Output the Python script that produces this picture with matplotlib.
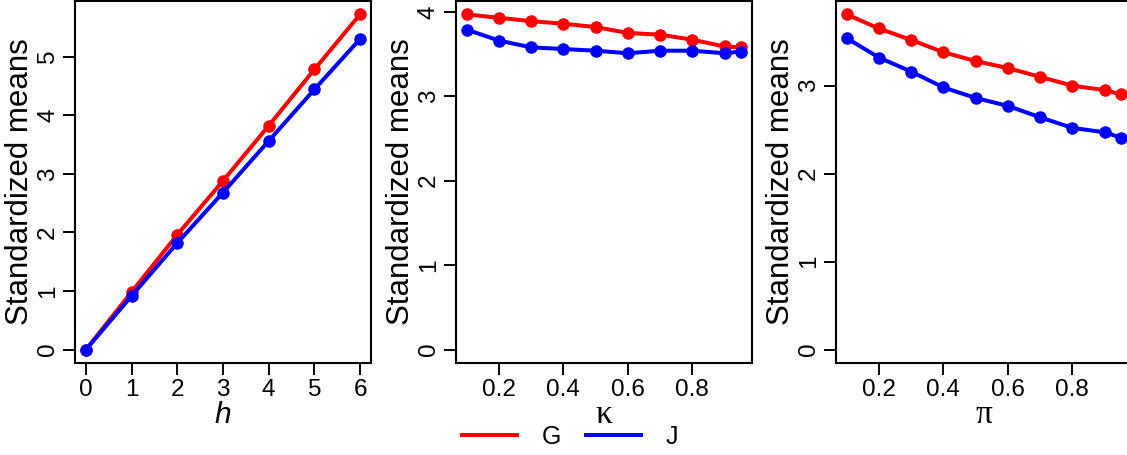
import numpy as np
import matplotlib
matplotlib.use("Agg")
import matplotlib.pyplot as plt
from matplotlib.lines import Line2D

plt.rcParams["font.family"] = ["Liberation Sans", "DejaVu Sans"]

# panel 1: h
h_vals = [0, 1, 2, 3, 4, 5, 6]
h_G = [0.0, 0.985, 1.96, 2.88, 3.82, 4.78, 5.72]
h_J = [0.0, 0.917, 1.82, 2.68, 3.56, 4.44, 5.30]

# panel 2: kappa
kappa_vals = [0.1, 0.2, 0.3, 0.4, 0.5, 0.6, 0.7, 0.8, 0.9, 0.95]
kappa_G = [3.97, 3.93, 3.89, 3.86, 3.82, 3.75, 3.73, 3.67, 3.59, 3.58]
kappa_J = [3.79, 3.66, 3.58, 3.56, 3.54, 3.51, 3.54, 3.54, 3.51, 3.53]

# panel 3: pi
pi_vals = [0.1, 0.2, 0.3, 0.4, 0.5, 0.6, 0.7, 0.8, 0.9, 0.95]
pi_G = [3.81, 3.65, 3.52, 3.38, 3.28, 3.20, 3.10, 3.00, 2.95, 2.90]
pi_J = [3.54, 3.32, 3.16, 2.98, 2.86, 2.77, 2.64, 2.52, 2.47, 2.41]

series_names = ["G", "J"]
series_colors = ["#FF0000", "#0000FF"]

W, H = 1127, 455
fig = plt.figure(figsize=(W / 100, H / 100), dpi=100)


def r_range(lo, hi):
    pad = 0.04 * (hi - lo)
    return lo - pad, hi + pad


def make_panel(left_px, x, g, j, xticks, xticklabels, yticks, xlabel, xlabel_kw):
    ax = fig.add_axes([left_px / W, (H - 363) / H, 296 / W, 362 / H])
    for y, c in zip([g, j], series_colors):
        ax.plot(x, y, color=c, lw=2.9, marker="o", ms=8, solid_capstyle="butt")
    ax.set_xlim(*r_range(min(x), max(x)))
    ymin = min(0, min(g), min(j))
    ymax = max(max(g), max(j))
    ax.set_ylim(*r_range(ymin, ymax))
    ax.set_xticks(xticks)
    ax.set_xticklabels(xticklabels)
    ax.set_yticks(yticks)
    ax.set_yticklabels([str(v) for v in yticks], rotation=90, va="center")
    ax.tick_params(axis="both", length=8.5, width=1.4, labelsize=17.5, pad=3)
    for s in ax.spines.values():
        s.set_linewidth(1.5)
    ax.text(-55 / 296, 0.5, "Standardized means", transform=ax.transAxes,
            rotation=90, ha="center", va="center", fontsize=22.5)
    ax.text(0.5, -(415 - 363) / 362, xlabel, transform=ax.transAxes,
            ha="center", va="center", **xlabel_kw)
    return ax


make_panel(75, h_vals, h_G, h_J, range(0, 7), [str(v) for v in range(0, 7)],
           range(0, 6), "h", dict(fontsize=21.5, style="italic"))
make_panel(455.7, kappa_vals, kappa_G, kappa_J, [0.2, 0.4, 0.6, 0.8],
           ["0.2", "0.4", "0.6", "0.8"], range(0, 5), "\u03ba",
           dict(fontsize=24, family="Liberation Serif"))
make_panel(835.7, pi_vals, pi_G, pi_J, [0.2, 0.4, 0.6, 0.8],
           ["0.2", "0.4", "0.6", "0.8"], range(0, 4), "\u03c0",
           dict(fontsize=24, family="Liberation Serif"))

handles = [Line2D([], [], color=c, lw=2.9) for c in series_colors]
fig.legend(handles, series_names, loc="center", bbox_to_anchor=(570 / W, 1 - 437 / H),
           ncol=2, frameon=False, fontsize=18, handlelength=2.2,
           handletextpad=1.0, columnspacing=1.0, borderpad=0)

fig.savefig("out.png", dpi=100)
